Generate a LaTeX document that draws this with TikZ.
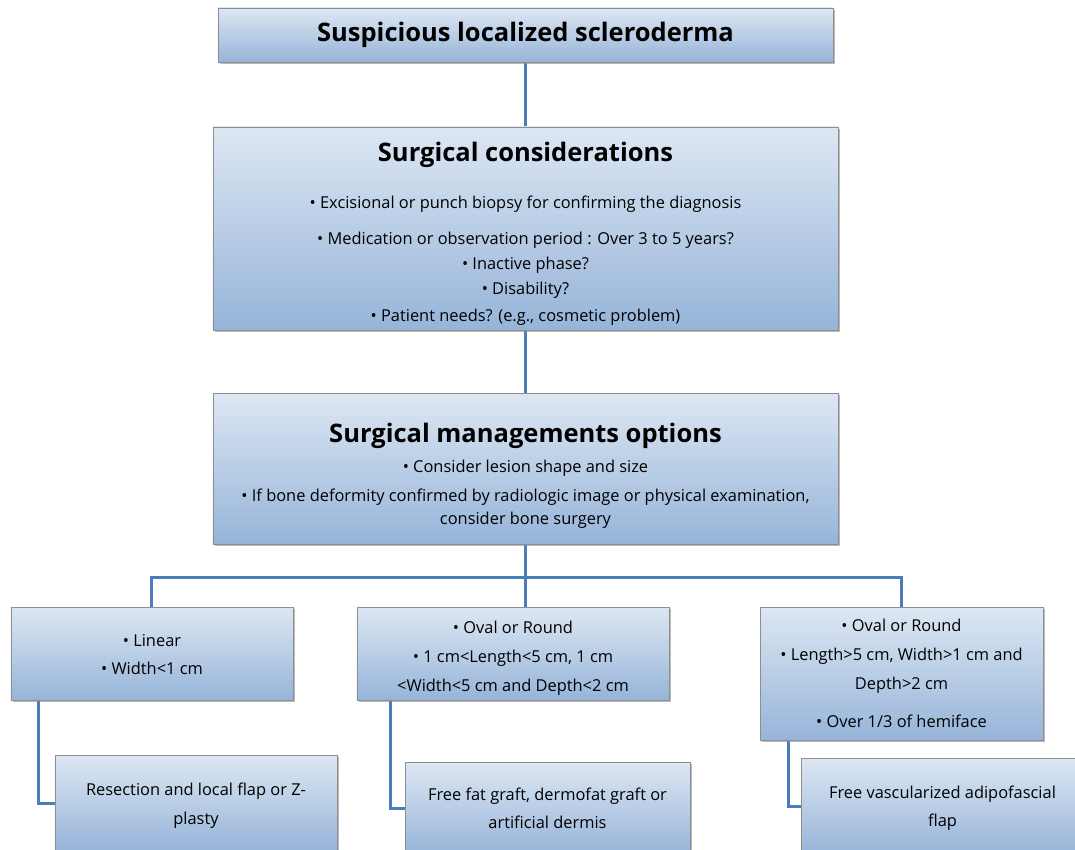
\documentclass[tikz,border=0pt]{standalone}
\usepackage{fontspec}
\setmainfont{Open Sans}
\usepackage{tikz}
\usepackage{xcolor}
\usetikzlibrary{positioning, calc, backgrounds, shadows}
\definecolor{boxTop}{HTML}{DDE7F3}
\definecolor{boxBottom}{HTML}{96B4D9}
\definecolor{boxEdge}{HTML}{8E8E8E}
\definecolor{linkBlue}{HTML}{4A7EBB}
\tikzstyle{stage} = [rectangle, align=center, draw=boxEdge, line width=0.8pt, top color=boxTop, bottom color=boxBottom, drop shadow={shadow xshift=2pt, shadow yshift=-2pt, fill=black!45, opacity=0.6}, font=\fontsize{16.4pt}{25pt}\selectfont]
\tikzstyle{link} = [linkBlue, line width=3pt]
\newcommand{\headline}[1]{{\fontsize{25.5pt}{30pt}\selectfont\bfseries #1}}

\begin{document}
\begin{tikzpicture}[node distance=200pt]

\useasboundingbox (-525.5pt,35pt) rectangle (549.5pt,-815pt);

% Nodes
\node (top) [stage, minimum width=615pt, minimum height=54pt] {\headline{Suspicious localized scleroderma}};
\node (consider) [stage, below of=top, yshift=6.5pt, minimum width=625pt, minimum height=203pt] {\headline{\rule{0pt}{29pt}Surgical considerations}\\[22pt]
  • Excisional or punch biopsy for confirming the diagnosis\\[11pt]
  • Medication or observation period : Over 3 to 5 years?\\
  • Inactive phase?\\
  • Disability?\\[2pt]
  • Patient needs? (e.g., cosmetic problem)};
\node (options) [stage, below of=consider, yshift=-40pt, minimum width=625pt, minimum height=151pt] {\headline{\rule{0pt}{34pt}Surgical managements options}\\[5pt]
  • Consider lesion shape and size\\[4pt]
  • If bone deformity confirmed by radiologic image or physical examination,\\[-2pt]
  consider bone surgery};
\node (linear) [stage, below of=options, xshift=-373.5pt, yshift=15pt, minimum width=282pt, minimum height=93pt] {\rule{0pt}{15pt}• Linear\\[3pt] • Width<1 cm};
\node (oval) [stage, below of=options, xshift=-12.5pt, yshift=15pt, minimum width=312pt, minimum height=93pt] {\rule{0pt}{21pt}• Oval or Round\\[4pt] • 1 cm<Length<5 cm, 1 cm\\[4pt] <Width<5 cm and Depth<2 cm};
\node (large) [stage, below of=options, xshift=376pt, yshift=-5pt, minimum width=283pt, minimum height=133pt] {• Oval or Round\\[4pt] • Length>5 cm, Width>1 cm and\\[4pt] Depth>2 cm\\[13pt] • Over 1/3 of hemiface};
\node (resection) [stage, below of=linear, xshift=44pt, yshift=50.5pt, minimum width=282pt, minimum height=96pt] {\rule{0pt}{17pt}Resection and local flap or Z-\\[4pt] plasty};
\node (freefat) [stage, below of=oval, xshift=34.5pt, yshift=45.5pt, minimum width=285pt, minimum height=92pt] {Free fat graft, dermofat graft or\\[3pt] artificial dermis};
\node (freevasc) [stage, below of=large, xshift=41pt, yshift=67.5pt, minimum width=283pt, minimum height=96pt] {\rule{0pt}{17pt}Free vascularized adipofascial\\[3pt] flap};

% Links
\begin{pgfonlayer}{background}
    \coordinate (split) at ([yshift=-33pt]options.south);
    \draw [link] (top) -- (consider);
    \draw [link] (consider) -- (options);
    \draw [link] (options) -- (split);
    \draw [link] (split) -| (linear);
    \draw [link] (split) -- (split |- oval.north);
    \draw [link] (split) -| (large);
    \draw [link] ([xshift=28pt]linear.south west) |- (resection);
    \draw [link] ([xshift=34pt]oval.south west) |- (freefat);
    \draw [link] ([xshift=29pt]large.south west) |- (freevasc);
\end{pgfonlayer}

\end{tikzpicture}
\end{document}
